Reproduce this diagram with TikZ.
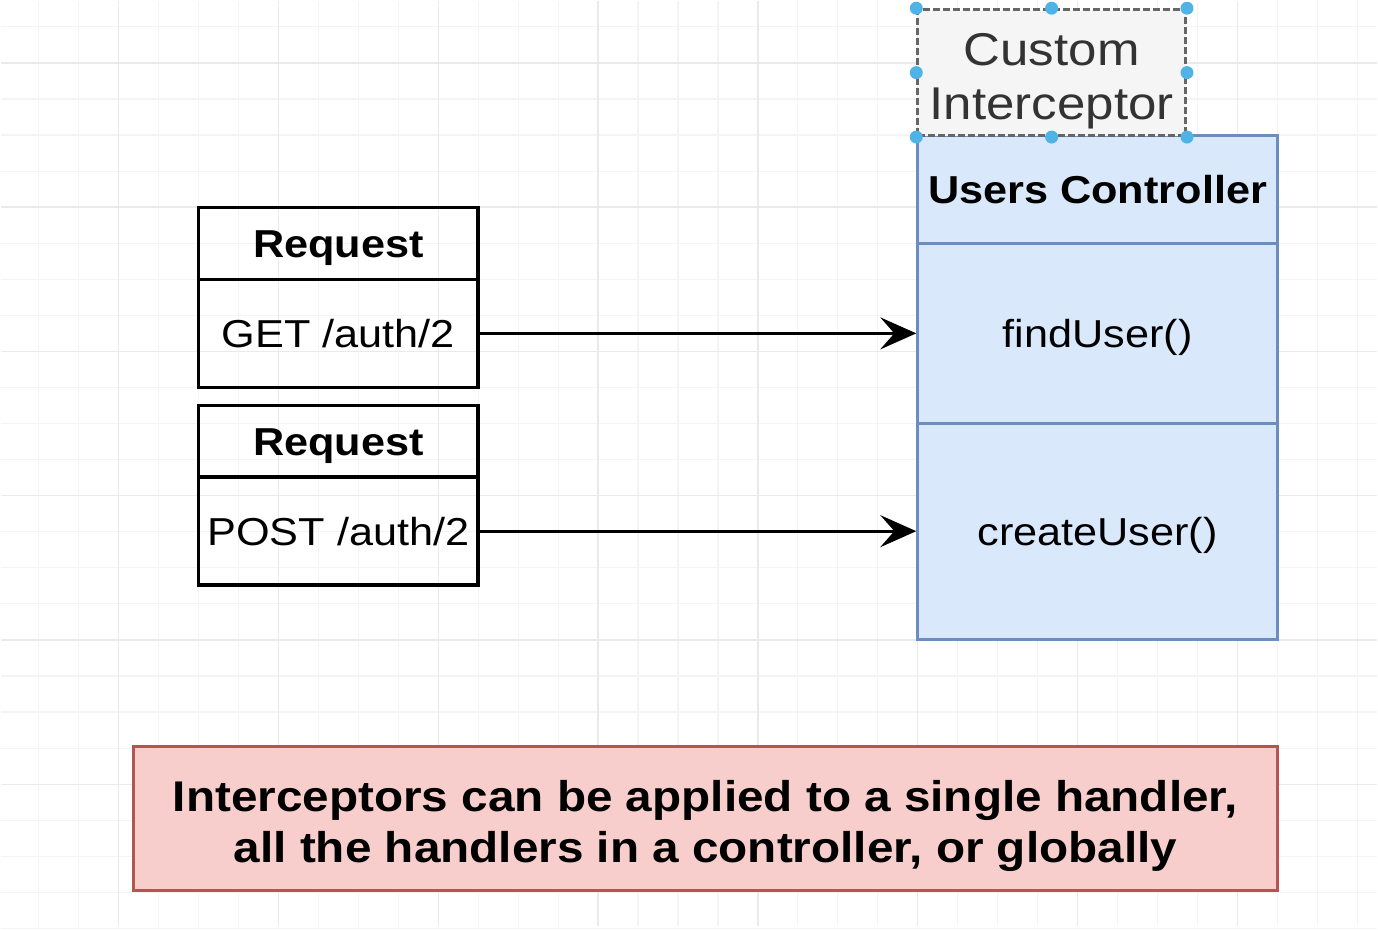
\documentclass[tikz,border=0pt]{standalone}
\usepackage{fontspec}
\setmainfont{Liberation Sans}[FakeStretch=1.11]
\usetikzlibrary{arrows.meta}
\definecolor{ctrlfill}{HTML}{DAE8FC}
\definecolor{ctrlline}{HTML}{6C8EBF}
\definecolor{notefill}{HTML}{F8CECC}
\definecolor{noteline}{HTML}{B85450}
\definecolor{icfill}{HTML}{F5F5F5}
\definecolor{icline}{HTML}{666666}
\definecolor{ictext}{HTML}{333333}
\definecolor{handleblue}{HTML}{4FB3E6}
\definecolor{gridminor}{HTML}{F4F4F4}
\definecolor{gridmajor}{HTML}{EAEAEA}
\begin{document}
\begin{tikzpicture}[x=1pt, y=-1pt,
  box/.style={rectangle, draw, line width=3.5pt, inner sep=0pt, minimum width=280pt, text height=27.9pt, text depth=0pt, font=\fontsize{39}{46}\selectfont},
  ctrl/.style={rectangle, draw=ctrlline, fill=ctrlfill, line width=3pt, inner sep=0pt, minimum width=360pt, text height=27.9pt, text depth=0pt, font=\fontsize{39}{46}\selectfont},
  reqarrow/.style={line width=3pt, -{Stealth[length=36pt, width=32pt, inset=14pt]}}]
\fill[white] (0,0) rectangle (1378,926);
\foreach \x in {38,78,...,1358} \draw[gridminor, line width=1.2pt] (\x,0) -- (\x,926);
\foreach \i in {0,...,25} \draw[gridminor, line width=1.2pt] (0,26.2+36.1*\i) -- (1378,26.2+36.1*\i);
\foreach \x in {118,278,...,1238} \draw[gridmajor, line width=1.4pt] (\x,0) -- (\x,926);
\foreach \i in {0,...,5} \draw[gridmajor, line width=1.4pt] (0,62.3+144.4*\i) -- (1378,62.3+144.4*\i);
\node[box, minimum height=72pt, font=\fontsize{39}{46}\selectfont\bfseries] (req1) at (338,243){Request};
\node[box, minimum height=108pt] (get) at (338,333){GET /auth/2};
\node[box, minimum height=72pt, font=\fontsize{39}{46}\selectfont\bfseries] (req2) at (338,441){Request};
\node[box, minimum height=108pt] (post) at (338,531){POST /auth/2};
\node[ctrl, minimum height=108pt, font=\fontsize{39}{46}\selectfont\bfseries] (users) at (1098,189){Users Controller};
\node[ctrl, minimum height=180pt] (find) at (1098,333){findUser()};
\node[ctrl, minimum height=216pt] (create) at (1098,531){createUser()};
\node[rectangle, draw=icline, fill=icfill, line width=3pt, dash pattern=on 7pt off 3pt, inner sep=0pt, minimum width=268pt, minimum height=126pt, text=ictext, font=\fontsize{46}{54}\selectfont] (ci) at (1052,72){\raisebox{-9.5pt}[\height][\depth]{\begin{tabular}{@{}c@{}}Custom\\Interceptor\end{tabular}}};
\foreach \a in {north west,north,north east,east,south east,south,south west,west}
  \fill[handleblue] (ci.\a) circle (6.5pt);
\draw[reqarrow] (get) -- (find);
\draw[reqarrow] (post) -- (create);
\node[rectangle, draw=noteline, fill=notefill, line width=3pt, inner sep=0pt, minimum width=1145pt, minimum height=144pt, font=\fontsize{43}{51}\selectfont\bfseries] (note) at (705.5,819){\raisebox{-8pt}[\height][\depth]{\begin{tabular}{@{}c@{}}Interceptors can be applied to a single handler,\\all the handlers in a controller, or globally\end{tabular}}};
\end{tikzpicture}
\end{document}
